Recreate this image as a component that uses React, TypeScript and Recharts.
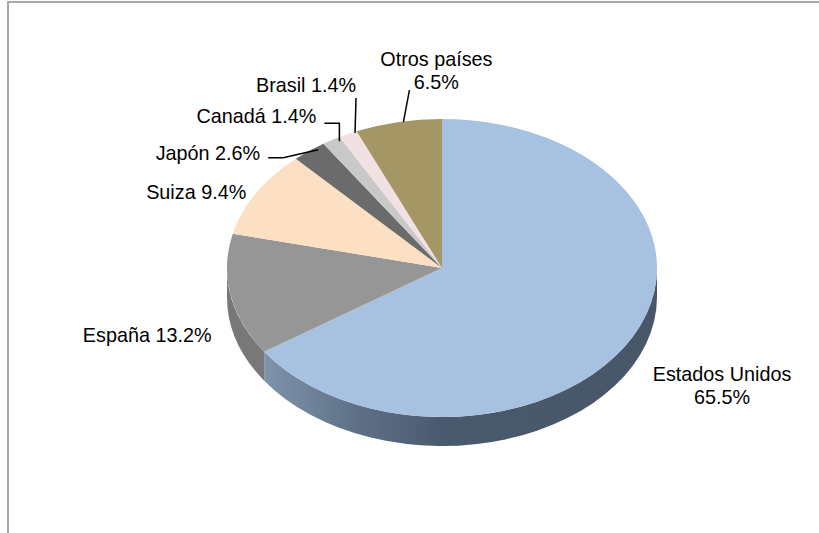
import { PieChart, Pie } from "recharts";

// países de destino y su participación (%)
const COUNTRIES = ["Estados Unidos", "España", "Suiza", "Japón", "Canadá", "Brasil", "Otros países"];
const SHARES = [65.5, 13.2, 9.4, 2.6, 1.4, 1.4, 6.5];

const TOP_COLORS = ["#a7c1e0", "#969696", "#fddfc4", "#6b6b6b", "#c9c9c9", "#f2e1e3", "#a59666"];
const SIDE_COLORS = ["url(#sideEU)", "#787878", "#c9b39e", "#4f4f4f", "#9a9a9a", "#c4b4b6", "#7a6f4b"];

const TILT = 0.693;
const DEPTH = 29;
const FONT = "'Liberation Sans', Arial, sans-serif";
const FONT_SIZE = 19.8;

// label placement relative to the rim point at the slice mid angle
type LabelLayout = {
  dx: number;
  dy: number;
  anchor: "start" | "middle" | "end";
  split: boolean;
  leader?: Array<[number, number]>;
};
const LABEL_LAYOUT: LabelLayout[] = [
  { dx: 90, dy: 43, anchor: "middle", split: true },
  { dx: -19, dy: 47, anchor: "end", split: false },
  { dx: -10, dy: 6, anchor: "end", split: false },
  { dx: -49, dy: 9, anchor: "end", split: false, leader: [[9, -1], [-26, 7], [-41, 7]] },
  { dx: -15, dy: -17, anchor: "end", split: false, leader: [[8, 1], [8, -17], [-7, -17]] },
  { dx: -42, dy: -42, anchor: "middle", split: false, leader: [[7, -1], [8, -36]] },
  { dx: 38, dy: -56, anchor: "middle", split: true, leader: [[5, 0], [11, -32]] },
];

const data = COUNTRIES.map((name, i) => ({ name, value: SHARES[i], fill: TOP_COLORS[i] }));

const RAD = Math.PI / 180;

function pt(cx: number, cy: number, rx: number, ry: number, tDeg: number) {
  return [cx + rx * Math.cos(tDeg * RAD), cy + ry * Math.sin(tDeg * RAD)];
}

function Slice(props: any) {
  const { cx, cy, outerRadius, startAngle, endAngle, index } = props;
  const rx = outerRadius;
  const ry = outerRadius * TILT;
  // screen angle, increasing clockwise
  const t1 = -startAngle;
  const t2 = -endAngle;
  const [x1, y1] = pt(cx, cy, rx, ry, t1);
  const [x2, y2] = pt(cx, cy, rx, ry, t2);
  const large = t2 - t1 > 180 ? 1 : 0;
  const top = `M${cx},${cy} L${x1},${y1} A${rx},${ry} 0 ${large} 1 ${x2},${y2} Z`;

  const sides: string[] = [];
  for (const k of [-1, 0, 1]) {
    const a = Math.max(t1, 360 * k);
    const b = Math.min(t2, 360 * k + 180);
    if (b - a > 0.01) {
      const [ax, ay] = pt(cx, cy, rx, ry, a);
      const [bx, by] = pt(cx, cy, rx, ry, b);
      sides.push(
        `M${ax},${ay} A${rx},${ry} 0 0 1 ${bx},${by} L${bx},${by + DEPTH} A${rx},${ry} 0 0 0 ${ax},${ay + DEPTH} Z`
      );
    }
  }

  return (
    <g>
      {sides.map((d, i) => (
        <path key={i} d={d} fill={SIDE_COLORS[index]} stroke="none" />
      ))}
      <path d={top} fill={TOP_COLORS[index]} stroke="none" />
    </g>
  );
}

function SliceLabel(props: any) {
  const { cx, cy, outerRadius, midAngle, index } = props;
  const layout = LABEL_LAYOUT[index];
  const [ax, ay] = pt(cx, cy, outerRadius, outerRadius * TILT, -midAngle);
  const pct = `${SHARES[index].toFixed(1)}%`;
  const name = COUNTRIES[index];
  const x = ax + layout.dx;
  const y = ay + layout.dy;
  return (
    <g>
      {layout.leader && (
        <polyline
          points={layout.leader.map(([px, py]) => `${ax + px},${ay + py}`).join(" ")}
          fill="none"
          stroke="#000"
          strokeWidth={1.5}
        />
      )}
      {layout.split ? (
        <text x={x} y={y} textAnchor={layout.anchor} fontFamily={FONT} fontSize={FONT_SIZE} fill="#000">
          <tspan x={x} y={y}>{name}</tspan>
          <tspan x={x} y={y + 23}>{pct}</tspan>
        </text>
      ) : (
        <text x={x} y={y} textAnchor={layout.anchor} fontFamily={FONT} fontSize={FONT_SIZE} fill="#000">
          {`${name} ${pct}`}
        </text>
      )}
    </g>
  );
}

export default function App() {
  return (
    <div
      style={{
        position: "fixed",
        left: 0,
        top: 0,
        width: 819,
        height: 533,
        overflow: "hidden",
        background: "#fff",
      }}
    >
      <div
        style={{
          position: "absolute",
          left: 7,
          top: 1,
          width: 900,
          height: 600,
          borderTop: "2px solid #a8a8a8",
          borderLeft: "2px solid #a8a8a8",
        }}
      />
      <div style={{ position: "absolute", left: 0, top: 0 }}>
        <PieChart width={819} height={533}>
          <defs>
            <linearGradient id="sideEU" gradientUnits="userSpaceOnUse" x1={227} y1={0} x2={657} y2={0}>
              <stop offset="0%" stopColor="#90a6c0" />
              <stop offset="10%" stopColor="#7c91aa" />
              <stop offset="30%" stopColor="#5f7187" />
              <stop offset="50%" stopColor="#4a5a6e" />
              <stop offset="100%" stopColor="#475768" />
            </linearGradient>
          </defs>
          <Pie
            data={data}
            dataKey="value"
            nameKey="name"
            cx={437}
            cy={263}
            outerRadius={215}
            startAngle={90}
            endAngle={-270}
            stroke="none"
            shape={Slice}
            activeShape={Slice}
            inactiveShape={Slice}
            label={SliceLabel}
            labelLine={false}
            isAnimationActive={false}
          />
        </PieChart>
      </div>
    </div>
  );
}
